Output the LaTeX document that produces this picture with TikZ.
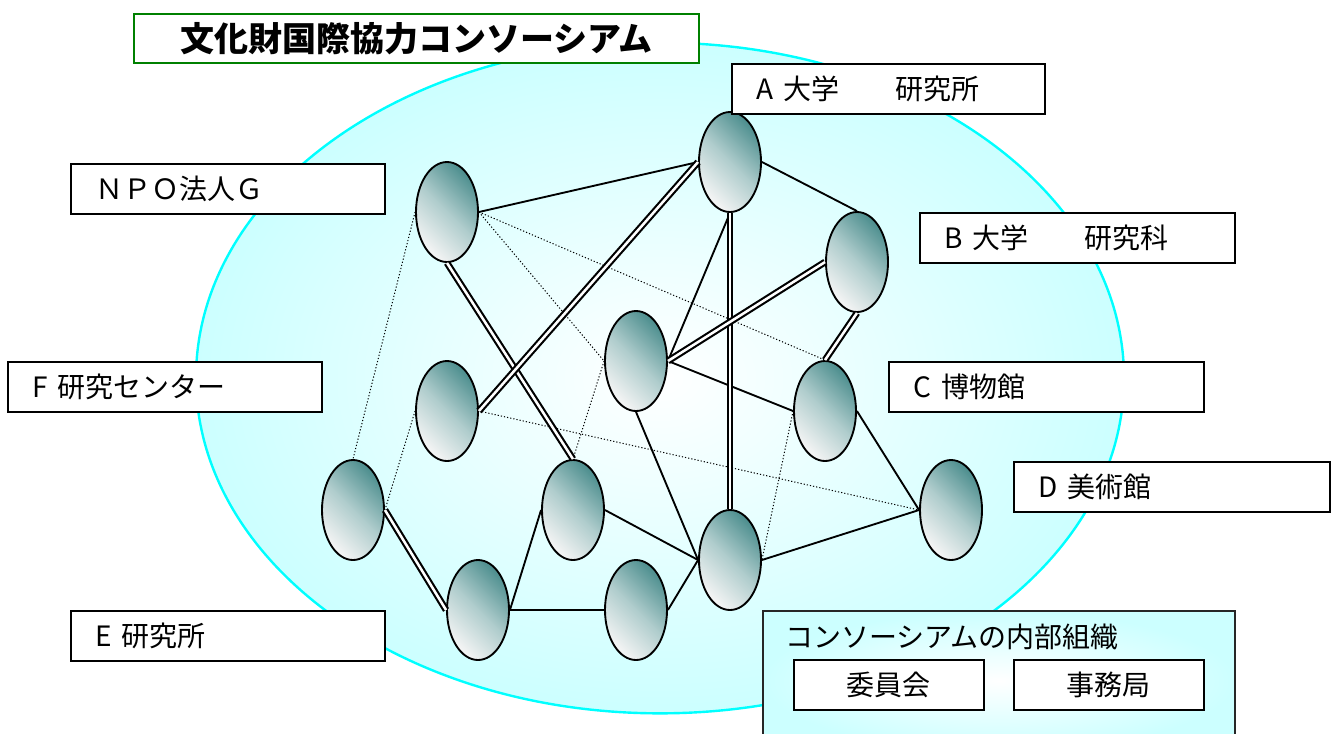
\documentclass[tikz,border=0pt]{standalone}
\usepackage{fontspec}
\setmainfont{Noto Sans CJK JP}
\usetikzlibrary{shapes.geometric}
\definecolor{tealc}{RGB}{78,143,143}
\definecolor{lcyan}{RGB}{204,255,255}
\definecolor{cyanb}{RGB}{0,255,255}
\definecolor{tgreen}{RGB}{0,128,0}
\begin{document}
\begin{tikzpicture}[x=0.75pt,y=-0.75pt,
  org/.style={ellipse, draw=black, line width=1.4pt, minimum width=46.5pt, minimum height=75pt, inner sep=0pt,
    top color=tealc, bottom color=white!96!black, middle color=tealc!45!white, shading angle=-45},
  lbl/.style={draw=black, line width=1.3pt, fill=white, anchor=north west, minimum height=37.5pt,
    inner xsep=18.75pt, inner ysep=0pt, align=left, font=\fontsize{21pt}{24pt}\selectfont},
  cbox/.style={draw=black, line width=1.3pt, fill=white, anchor=north west, minimum width=142.5pt,
    minimum height=37.5pt, inner sep=0pt, font=\fontsize{21pt}{24pt}\selectfont},
  solidl/.style={line width=1.4pt},
  dbl/.style={line width=1.6pt, double=white, double distance=1.9pt},
  dotl/.style={line width=0.75pt, dash pattern=on 0.9pt off 1.5pt}]
\useasboundingbox (0,0) rectangle (1338,733);
\fill[white] (0,0) rectangle (1338,733);
% consortium cloud
\node[ellipse, draw=cyanb, line width=1.8pt, inner color=white, outer color=lcyan,
  minimum width=696pt, minimum height=503pt, inner sep=0pt] (cloud) at (660,378) {};
% member nodes
\node[org] (nA) at (730,162) {};
\node[org] (nG) at (447,212) {};
\node[org] (nB) at (857,262) {};
\node[org] (nM) at (636,361) {};
\node[org] (nF) at (447,411) {};
\node[org] (nC) at (825,411) {};
\node[org] (nL) at (353,510) {};
\node[org] (nK) at (573,510) {};
\node[org] (nD) at (951,510) {};
\node[org] (nH) at (730,560) {};
\node[org] (nE) at (478,610) {};
\node[org] (nJ) at (636,610) {};
% dotted links
\draw[dotl] (nG.west) -- (nL.north);
\draw[dotl] (nG.east) -- (nC.north);
\draw[dotl] (nG.east) -- (nM.west);
\draw[dotl] (nF.east) -- (nD.west);
\draw[dotl] (nF.west) -- (nL.east);
\draw[dotl] (nM.west) -- (nK.north);
\draw[dotl] (nC.west) -- (nH.east);
% solid links
\draw[solidl] (nG.east) -- (nA.west);
\draw[solidl] (nA.east) -- (nB.north);
\draw[solidl] (nA.south) -- (nM.east);
\draw[solidl] (nM.east) -- (nC.west);
\draw[solidl] (nM.south) -- (nH.west);
\draw[solidl] (nE.east) -- (nK.west);
\draw[solidl] (nE.east) -- (nJ.west);
\draw[solidl] (nK.east) -- (nH.west);
\draw[solidl] (nJ.east) -- (nH.west);
\draw[solidl] (nH.east) -- (nD.west);
\draw[solidl] (nC.east) -- (nD.west);
% double links
\draw[dbl] (nA.south) -- (nH.north);
\draw[dbl] (nB.west) -- (nM.east);
\draw[dbl] (nB.south) -- (nC.north);
\draw[dbl] (nG.south) -- (nK.north);
\draw[dbl] (nF.east) -- (nA.west);
\draw[dbl] (nL.east) -- (nE.west);
% labels
\node[draw=tgreen, line width=1.5pt, fill=white, anchor=north west, minimum width=423.75pt,
  minimum height=36.75pt, inner sep=0pt, font=\bfseries\fontsize{25.5pt}{28pt}\selectfont]
  (title) at (133,13) {文化財国際協力コンソーシアム};
\node[lbl, text width=197.25pt] (lA) at (731,63) {A 大学　　研究所};
\node[lbl, text width=198pt] (lG) at (70,163) {ＮＰＯ法人Ｇ};
\node[lbl, text width=198.75pt] (lB) at (919,212) {B 大学　　研究科};
\node[lbl, text width=198pt] (lF) at (7,361) {F 研究センター};
\node[lbl, text width=198.75pt] (lC) at (888,361) {C 博物館};
\node[lbl, text width=199.5pt] (lD) at (1013,461) {D 美術館};
\node[lbl, text width=198pt] (lE) at (70,610) {E 研究所};
% internal organisation
\node[draw=black!85, line width=1.3pt, inner color=white, outer color=lcyan, anchor=north west,
  minimum width=354pt, minimum height=105pt, inner sep=0pt] (inner) at (762,610) {};
\node[anchor=west, inner sep=0pt, font=\fontsize{21pt}{24pt}\selectfont] (innert) at (785,637) {コンソーシアムの内部組織};
\node[cbox] (iin) at (793,659) {委員会};
\node[cbox] (jim) at (1013,659) {事務局};
\end{tikzpicture}
\end{document}
